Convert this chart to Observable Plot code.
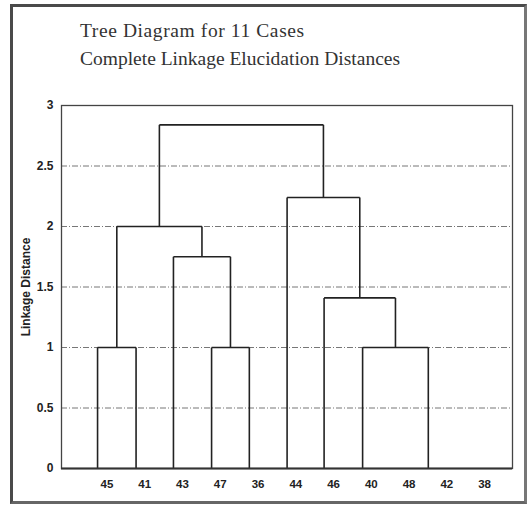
<!DOCTYPE html>
<html>
<head>
<meta charset="utf-8">
<script src="https://cdn.jsdelivr.net/npm/d3@7"></script>
<script src="https://cdn.jsdelivr.net/npm/@observablehq/plot@0.6"></script>
<style>
  html, body { margin: 0; padding: 0; background: #fff; }
  #wrap { position: relative; width: 530px; height: 506px; overflow: hidden; }
  #border { position: absolute; left: 10px; top: 4px; width: 517px; height: 500px; box-sizing: border-box;
            border: 3px solid #4a4a4a; border-right-color: #777; border-bottom-color: #666; }
  .title { position: absolute; left: 80px; font-family: "Liberation Serif", "Times New Roman", serif;
           font-size: 19.5px; line-height: 19.5px; color: #333; white-space: nowrap; }
  #chart { position: absolute; left: 0; top: 0; }
</style>
</head>
<body>
<div id="wrap">
  <div id="border"></div>
  <div class="title" id="t1" style="top:21px; letter-spacing:0.6px">Tree Diagram for 11 Cases</div>
  <div class="title" id="t2" style="top:49px">Complete Linkage Elucidation Distances</div>
  <div id="chart"></div>
</div>
<script>
// Case labels along the x axis (tick positions 1..11)
const labels = ["45", "41", "43", "47", "36", "44", "46", "40", "48", "42", "38"];
const xTicks = [1, 2, 3, 4, 5, 6, 7, 8, 9, 10, 11];
const yTicks = [0, 0.5, 1, 1.5, 2, 2.5, 3];

// Leaf positions of the tree branches (in x-axis units)
const leafX = [0.75, 1.77, 2.76, 3.77, 4.77, 5.77, 6.75, 7.77, 9.51];

// Joins: [left child, right child, linkage distance]; "L#" = leaf, "M#" = earlier join
const joinLeft   = ["L0", "L3", "L2", "M0", "L7", "L6", "L5", "M3"];
const joinRight  = ["L1", "L4", "M1", "M2", "L8", "M4", "M5", "M6"];
const joinHeight = [1.0, 1.0, 1.75, 2.0, 1.0, 1.41, 2.24, 2.84];

// Build the segments of the dendrogram from the data
const nodes = {};
leafX.forEach((x, i) => { nodes["L" + i] = {x, h: 0}; });
const segments = [];
joinHeight.forEach((h, i) => {
  const a = nodes[joinLeft[i]], b = nodes[joinRight[i]];
  segments.push({x1: a.x, y1: a.h, x2: a.x, y2: h});
  segments.push({x1: b.x, y1: b.h, x2: b.x, y2: h});
  segments.push({x1: a.x, y1: h, x2: b.x, y2: h});
  nodes["M" + i] = {x: (a.x + b.x) / 2, h};
});

const tickFont = "'Liberation Sans Narrow', 'Liberation Sans', Arial, sans-serif";

const chart = Plot.plot({
  width: 530,
  height: 506,
  marginLeft: 61,
  marginRight: 18,
  marginTop: 105,
  marginBottom: 38,
  style: {background: "transparent", fontFamily: tickFont},
  x: {domain: [-0.205, 11.74], axis: null},
  y: {domain: [0, 3], axis: null},
  marks: [
    Plot.gridY(yTicks.filter(d => d > 0 && d < 3), {stroke: "#777", strokeOpacity: 1, strokeWidth: 1, strokeDasharray: "6,2,1,2"}),
    Plot.frame({stroke: "#444", strokeWidth: 1.3}),
    Plot.link(segments, {x1: "x1", y1: "y1", x2: "x2", y2: "y2", stroke: "#222", strokeWidth: 1.6}),
    Plot.ruleY([0], {stroke: "#333", strokeWidth: 2.2}),
    Plot.axisY(yTicks, {tickSize: 0, tickPadding: 8, fontSize: 12, fontWeight: "bold", fill: "#222", label: null, tickFormat: d => String(d)}),
    Plot.axisX(xTicks, {tickSize: 0, tickPadding: 11, fontSize: 11.5, fontWeight: "bold", fill: "#222", label: null, tickFormat: i => labels[i - 1]}),
    Plot.text(["Linkage Distance"], {frameAnchor: "left", textAnchor: "middle", dx: -35, rotate: -90, fontSize: 12, fontWeight: "bold", fill: "#222"})
  ]
});
document.getElementById("chart").appendChild(chart);
</script>
</body>
</html>
